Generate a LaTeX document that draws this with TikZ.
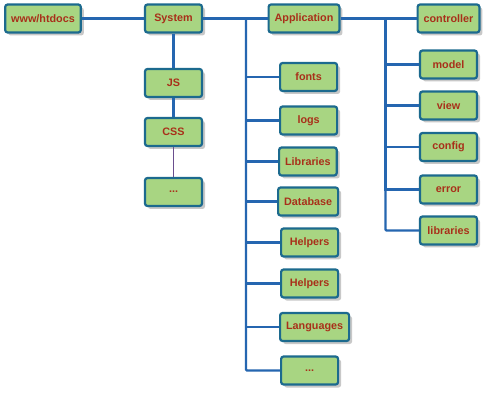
\documentclass[tikz,border=0pt]{standalone}
\usepackage{fontspec}
\setmainfont{Liberation Sans}
\usetikzlibrary{shadows}
\definecolor{boxfill}{HTML}{A8D582}
\definecolor{boxdraw}{HTML}{1C6A8E}
\definecolor{boxtext}{HTML}{A8301A}
\definecolor{wire}{HTML}{2566B0}
\definecolor{thinwire}{HTML}{6A4E8E}
\begin{document}
\begin{tikzpicture}[x=1pt,y=-1pt,
  box/.style={draw=boxdraw, line width=2.2pt, fill=boxfill, rounded corners=2.5pt,
    minimum height=28pt, minimum width=57pt, inner xsep=6pt,
    font=\bfseries\fontsize{10.8}{12}\selectfont, text=boxtext,
    drop shadow={shadow xshift=3pt, shadow yshift=-3pt, fill=black!30, opacity=0.7}},
  wireline/.style={draw=wire, line width=2.2pt},
  thinline/.style={draw=thinwire, line width=0.8pt}]
\useasboundingbox (0,0) rectangle (489,411);
\fill[white] (0,0) rectangle (489,411);
% top row
\node[box] (www) at (43,18.5) {www/htdocs};
\node[box] (sys) at (173.5,18.5) {System};
\node[box] (app) at (304,18.5) {Application};
\node[box] (ctl) at (448.5,18.5) {controller};
% system column
\node[box] (js) at (173.5,83) {JS};
\node[box] (css) at (173.5,132) {CSS};
\node[box] (sdots) at (173.5,192) {...};
% application column
\node[box,anchor=west] (fonts) at (279,77) {fonts};
\node[box,anchor=west] (logs) at (279,120.5) {logs};
\node[box,anchor=west] (libs) at (278,161.5) {Libraries};
\node[box,anchor=west] (db) at (277,201.5) {Database};
\node[box,anchor=west] (help1) at (280,242.5) {Helpers};
\node[box,anchor=west] (help2) at (280,283.5) {Helpers};
\node[box,anchor=west] (lang) at (279,327) {Languages};
\node[box,anchor=west] (adots) at (280,370.5) {...};
% controller column
\node[box] (model) at (448.5,64.5) {model};
\node[box] (view) at (448.5,105.5) {view};
\node[box] (config) at (448.5,147) {config};
\node[box] (error) at (448.5,189.5) {error};
\node[box] (clibs) at (448.5,230.5) {libraries};
% buses
\coordinate (abus) at (246,18.5);
\coordinate (cbus) at (385.5,18.5);
\draw[wireline] (www.east) -- (sys.west);
\draw[wireline] (sys.east) -- (app.west);
\draw[wireline] (app.east) -- (ctl.west);
\draw[wireline] (sys.south) -- (js.north);
\draw[wireline] (js.south) -- (css.north);
\draw[thinline] (css.south) -- (sdots.north);
\foreach \n in {fonts,logs,libs,db,help1,help2,lang} {
  \draw[wireline] (abus) |- (\n.west);
}
\draw[wireline,rounded corners=1pt] (abus) |- (adots.west);
\foreach \n in {model,view,config,error} {
  \draw[wireline] (cbus) |- (\n.west);
}
\draw[wireline,rounded corners=1pt] (cbus) |- (clibs.west);
\end{tikzpicture}
\end{document}
